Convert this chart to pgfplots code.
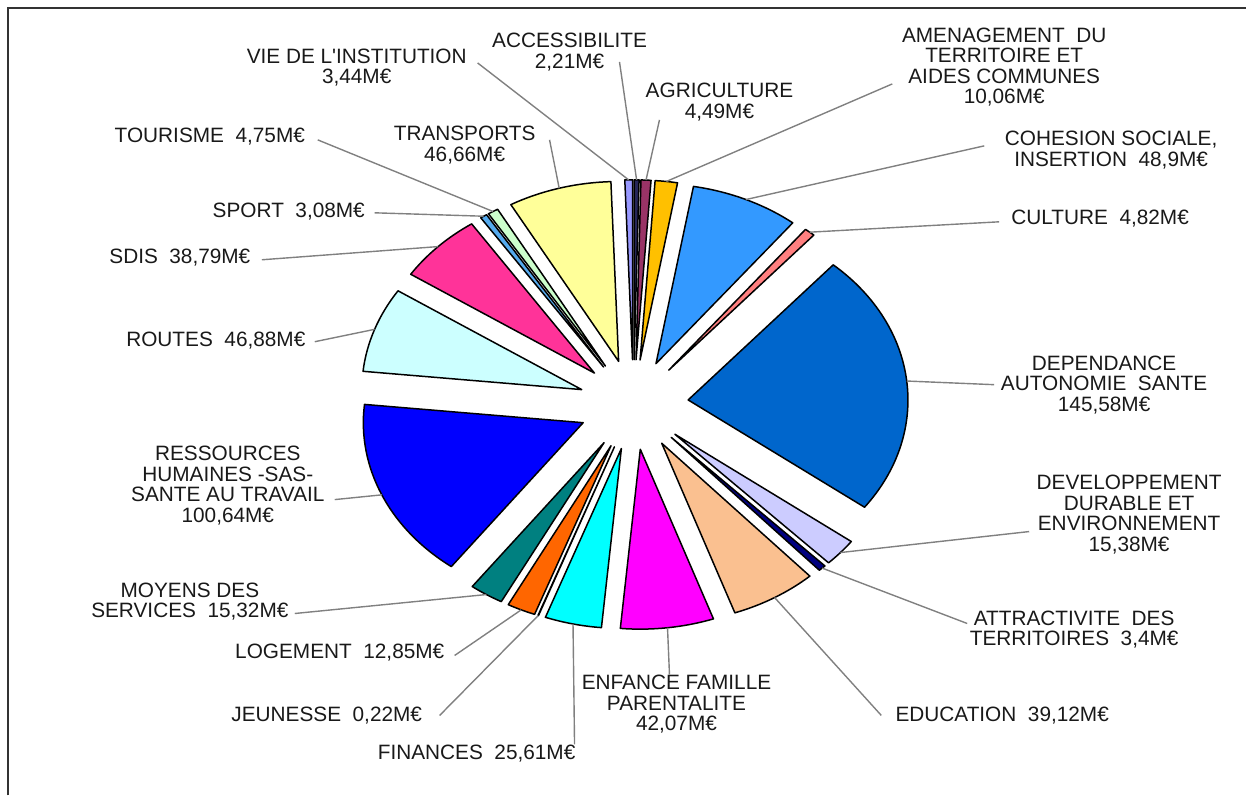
\documentclass[border=0pt]{standalone}
\usepackage{fontspec}
\setmainfont{Liberation Sans}[Ligatures=TeXOff]
\usepackage{pgfplots}
\usepackage{pgfplotstable}
\pgfplotsset{compat=1.18}
\definecolor{cACC}{HTML}{262659}
\definecolor{cAGR}{HTML}{993366}
\definecolor{cAME}{HTML}{FFC000}
\definecolor{cCOH}{HTML}{3399FF}
\definecolor{cCUL}{HTML}{FF8080}
\definecolor{cDEP}{HTML}{0066CC}
\definecolor{cDEV}{HTML}{CCCCFF}
\definecolor{cATT}{HTML}{000080}
\definecolor{cEDU}{HTML}{FAC090}
\definecolor{cENF}{HTML}{FF00FF}
\definecolor{cFIN}{HTML}{00FFFF}
\definecolor{cJEU}{HTML}{C0C0C0}
\definecolor{cLOG}{HTML}{FF6600}
\definecolor{cMOY}{HTML}{008080}
\definecolor{cRH}{HTML}{0000FF}
\definecolor{cROU}{HTML}{CCFFFF}
\definecolor{cSDIS}{HTML}{FF3399}
\definecolor{cSPO}{HTML}{55AAEE}
\definecolor{cTOU}{HTML}{CCFFCC}
\definecolor{cTRA}{HTML}{FFFF99}
\definecolor{cVIE}{HTML}{9999FF}
\definecolor{leader}{HTML}{808080}
\definecolor{frame}{HTML}{333333}
\pgfplotstableread{
key value color lx ly
ACC 2.21 cACC 620 734
AGR 4.49 cAGR 660 676
AME 10.06 cAME 893 712
COH 48.9 cCOH 985 650
CUL 4.82 cCUL 1000 574
DEP 145.58 cDEP 995 411
DEV 15.38 cDEV 1030 264
ATT 3.4 cATT 968 172
EDU 39.12 cEDU 882 80
ENF 42.07 cENF 670 121
FIN 25.61 cFIN 575 51
JEU 0.22 cJEU 440 80
LOG 12.85 cLOG 455 140
MOY 15.32 cMOY 295 182
RH 100.64 cRH 335 296
ROU 46.88 cROU 315 454
SDIS 38.79 cSDIS 262 536
SPO 3.08 cSPO 375 583
TOU 4.75 cTOU 318 656
TRA 46.66 cTRA 550 656
VIE 3.44 cVIE 478 733
}\slicedata
\tikzset{lab/.style={font=\fontsize{10.4}{10.25}\selectfont, align=center, text=black!90, inner sep=0pt}}
\begin{document}
\begin{tikzpicture}
\begin{axis}[scale only axis, width=623.5pt, height=398pt,
  xmin=0, xmax=1247, ymin=0, ymax=796, hide axis, clip=false]
\pgfplotsextra{
  \path (axis cs:0,0) rectangle (axis cs:1247,796);
  \draw[line width=1pt, frame] (axis cs:8.5,0) -- (axis cs:8.5,788) -- (axis cs:1247,788);
  \pgfplotstablegetrowsof{\slicedata}
  \pgfmathtruncatemacro\N{\pgfplotsretval-1}
  \gdef\tot{0}
  \foreach \i in {0,...,\N}{
    \pgfplotstablegetelem{\i}{value}\of{\slicedata}
    \pgfmathsetmacro\tmp{\tot+\pgfplotsretval}
    \xdef\tot{\tmp}
  }
  \gdef\cum{0}
  \foreach \i in {0,...,\N}{
    \pgfplotstablegetelem{\i}{value}\of{\slicedata}\let\sv\pgfplotsretval
    \pgfplotstablegetelem{\i}{color}\of{\slicedata}\let\slicecol\pgfplotsretval
    \pgfplotstablegetelem{\i}{lx}\of{\slicedata}\let\lx\pgfplotsretval
    \pgfplotstablegetelem{\i}{ly}\of{\slicedata}\let\ly\pgfplotsretval
    \pgfmathsetmacro\aone{90-360*(\cum/\tot)}
    \pgfmathsetmacro\atwo{90-360*((\cum+\sv)/\tot)}
    \pgfmathsetmacro\amid{(\aone+\atwo)/2}
    \pgfmathsetmacro\tx{634+55*cos(\amid)}
    \pgfmathsetmacro\ty{391+45*sin(\amid)}
    \pgfmathsetmacro\ox{\tx+220*cos(\amid)}
    \pgfmathsetmacro\oy{\ty+180*sin(\amid)}
    \fill[fill=\slicecol, draw=black, line width=0.75pt, line join=round]
      (axis cs:\tx,\ty) -- ++(\aone:110pt and 90pt)
      arc[start angle=\aone, end angle=\atwo, x radius=110pt, y radius=90pt] -- cycle;
    \draw[leader, line width=0.7pt] (axis cs:\lx,\ly) -- (axis cs:\ox,\oy);
    \pgfmathsetmacro\tmp{\cum+\sv}
    \xdef\cum{\tmp}
  }
  \node[lab] at (axis cs:357,728.5) {VIE DE L'INSTITUTION\\3,44M€};
  \node[lab] at (axis cs:570,744) {ACCESSIBILITE\\2,21M€};
  \node[lab] at (axis cs:720,694) {AGRICULTURE\\4,49M€};
  \node[lab] at (axis cs:1005,729) {AMENAGEMENT\ \ DU\\TERRITOIRE ET\\AIDES COMMUNES\\10,06M€};
  \node[lab] at (axis cs:1112,646) {COHESION SOCIALE,\\INSERTION\ \ 48,9M€};
  \node[lab] at (axis cs:1101,577) {CULTURE\ \ 4,82M€};
  \node[lab] at (axis cs:1105,411) {DEPENDANCE\\AUTONOMIE\ \ SANTE\\145,58M€};
  \node[lab] at (axis cs:1130,281) {DEVELOPPEMENT\\DURABLE ET\\ENVIRONNEMENT\\15,38M€};
  \node[lab] at (axis cs:1075,166) {ATTRACTIVITE\ \ DES\\TERRITOIRES\ \ 3,4M€};
  \node[lab] at (axis cs:1003,80) {EDUCATION\ \ 39,12M€};
  \node[lab] at (axis cs:677,91) {ENFANCE FAMILLE\\PARENTALITE\\42,07M€};
  \node[lab] at (axis cs:477,42) {FINANCES\ \ 25,61M€};
  \node[lab] at (axis cs:327,80) {JEUNESSE\ \ 0,22M€};
  \node[lab] at (axis cs:340,143) {LOGEMENT\ \ 12,85M€};
  \node[lab] at (axis cs:190,194) {MOYENS DES\\SERVICES\ \ 15,32M€};
  \node[lab] at (axis cs:228,310) {RESSOURCES\\HUMAINES -SAS-\\SANTE AU TRAVAIL\\100,64M€};
  \node[lab] at (axis cs:216,455) {ROUTES\ \ 46,88M€};
  \node[lab] at (axis cs:180,538) {SDIS\ \ 38,79M€};
  \node[lab] at (axis cs:289,584) {SPORT\ \ 3,08M€};
  \node[lab] at (axis cs:210,659) {TOURISME\ \ 4,75M€};
  \node[lab] at (axis cs:465,651) {TRANSPORTS\\46,66M€};
}
\end{axis}
\end{tikzpicture}
\end{document}
